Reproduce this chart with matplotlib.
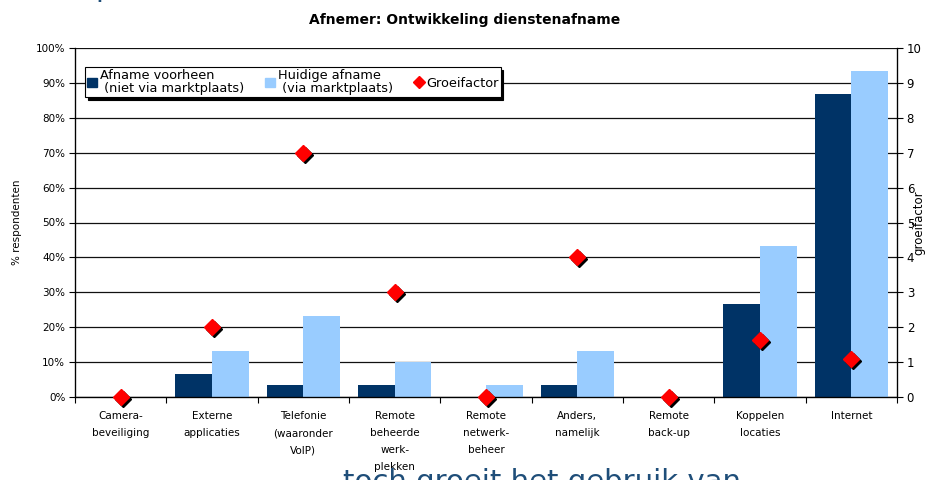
import numpy as np
import matplotlib
matplotlib.use("Agg")
import matplotlib.pyplot as plt
from matplotlib.lines import Line2D
from matplotlib.patches import Patch
from matplotlib.transforms import offset_copy

# data
categories = ["Camera-\nbeveiliging", "Externe\napplicaties", "Telefonie\n(waaronder\nVoIP)",
              "Remote\nbeheerde\nwerk-\nplekken", "Remote\nnetwerk-\nbeheer", "Anders,\nnamelijk",
              "Remote\nback-up", "Koppelen\nlocaties", "Internet"]
afname_voorheen = [0, 6.7, 3.3, 3.3, 0, 3.3, 0, 26.7, 86.7]
huidige_afname = [0, 13.3, 23.3, 10.0, 3.3, 13.3, 0, 43.3, 93.3]
groeifactor = [0, 2, 7, 3, 0, 4, 0, 1.62, 1.08]

DARK = "#003366"
LIGHT = "#99CCFF"
RED = "#FF0000"
FS = 7.5

plt.rcParams["font.family"] = ["DejaVu Sans"]

fig = plt.figure(figsize=(9.29, 4.8), dpi=100)
ax = fig.add_axes([75 / 929, 1 - 397 / 480, 822 / 929, 349 / 480])
x = np.arange(len(categories))
w = 0.40

ax.set_axisbelow(True)
ax.bar(x - w / 2, afname_voorheen, w, color=DARK, zorder=2)
ax.bar(x + w / 2, huidige_afname, w, color=LIGHT, zorder=2)

ax.set_xlim(-0.5, len(categories) - 0.5)
ax.set_ylim(0, 100)
ax.set_yticks(np.arange(0, 101, 10))
ax.set_yticklabels([f"{v}%" for v in range(0, 101, 10)], fontsize=FS)
ax.yaxis.grid(True, color="#111111", linewidth=0.9)
ax.set_xticks(x)
ax.set_xticklabels(categories, fontsize=FS, linespacing=1.9, va="top")
ax.set_xticks(np.arange(-0.5, len(categories), 1), minor=True)
ax.tick_params(axis="x", which="major", length=0, pad=10)
ax.tick_params(axis="x", which="minor", length=4, width=0.8)
ax.tick_params(axis="y", length=4, width=0.8, pad=3)
ax.spines["top"].set_visible(False)
for s in ("left", "bottom", "right"):
    ax.spines[s].set_linewidth(0.9)
ax.set_ylabel("% respondenten", fontsize=FS, labelpad=10)

ax2 = ax.twinx()
ax2.set_ylim(0, 10)
ax2.set_yticks(range(0, 11))
ax2.set_yticklabels([str(v) for v in range(0, 11)], fontsize=FS + 1)
ax2.tick_params(axis="y", length=4, width=0.8, pad=3)
ax2.spines["top"].set_visible(False)
ax2.set_ylabel("groeifactor", fontsize=FS + 1, labelpad=-7)

shadow = offset_copy(ax2.transData, fig=fig, x=2, y=-2, units="dots")
ax2.plot(x, groeifactor, linestyle="none", marker="D", markersize=8,
         color="black", transform=shadow, zorder=3, clip_on=False)
ax2.plot(x, groeifactor, linestyle="none", marker="D", markersize=8,
         color=RED, zorder=4, clip_on=False)

handles = [Patch(color=DARK), Patch(color=LIGHT),
           Line2D([], [], linestyle="none", marker="D", color=RED, markersize=6)]
labels = ["Afname voorheen\n (niet via marktplaats)", "Huidige afname\n (via marktplaats)", "Groeifactor"]
leg = ax2.legend(handles, labels, ncol=3, loc="upper left", bbox_to_anchor=(10 / 822, 1 - 19 / 349),
                 fontsize=FS + 1.8, frameon=True, fancybox=False, shadow={"color": "black", "alpha": 1},
                 handlelength=0.8, handleheight=0.8, handletextpad=0.2, columnspacing=1.6,
                 borderpad=0.15, borderaxespad=0)
leg.get_frame().set_edgecolor("black")
leg.get_frame().set_linewidth(0.8)
for t in leg.get_texts():
    t.set_linespacing(1.0)

fig.text(0.5, 1 - 20 / 480, "Afnemer: Ontwikkeling dienstenafname", ha="center", va="center",
         fontsize=10, fontweight="bold")

# slide text cut off at the top and bottom edges
fig.text(95 / 929, 1 + 4 / 480, "processen", color="#1F4E79", fontsize=21, va="baseline", ha="left")
fig.text(343 / 929, 1 - 468 / 480, "toch groeit het gebruik van", color="#1F4E79", fontsize=21,
         va="top", ha="left")

fig.savefig("out.png", dpi=100)
